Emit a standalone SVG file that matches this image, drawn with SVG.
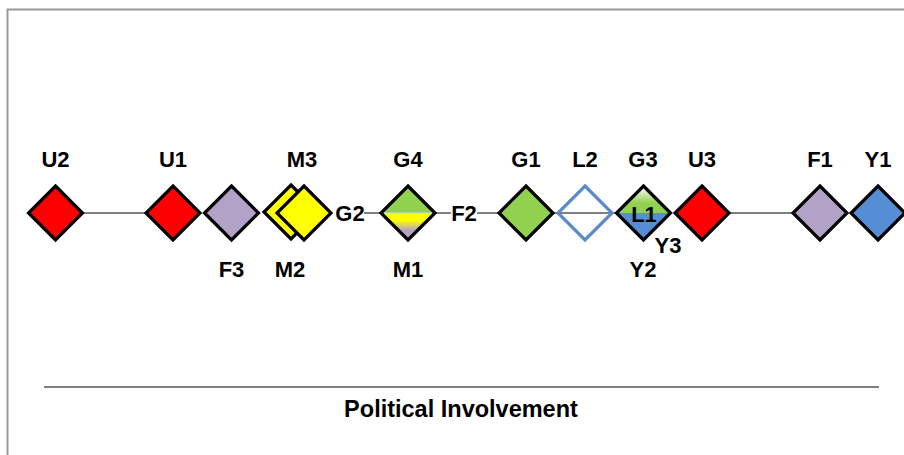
<svg xmlns="http://www.w3.org/2000/svg" width="904" height="455" viewBox="0 0 904 455">
  <style>
    .d { stroke: #000; stroke-width: 3.2; stroke-linejoin: miter; }
    .lbl { font-family: "Liberation Sans", Arial, sans-serif; font-weight: bold; font-size: 22px; fill: #000; text-anchor: middle; }
    .title { font-family: "Liberation Sans", Arial, sans-serif; font-weight: bold; font-size: 23.5px; fill: #000; text-anchor: middle; }
    .conn { stroke: #7f7f7f; stroke-width: 2; fill: none; }
    .red { fill: #ff0000; }
    .lilac { fill: #b3a2c7; }
    .yellow { fill: #ffff00; }
    .green { fill: #92d050; }
    .blue { fill: #558ed5; }
  </style>
  <defs>
    <!-- one diamond shape, centred on the origin -->
    <path id="dia" d="M0,-27 L27,0 L0,27 L-27,0 Z"/>
    <linearGradient id="gradG4" x1="0" y1="0" x2="0" y2="1">
      <stop offset="0" stop-color="#92d050"/>
      <stop offset="0.48" stop-color="#92d050"/>
      <stop offset="0.5" stop-color="#c6dce0"/>
      <stop offset="0.53" stop-color="#ffff00"/>
      <stop offset="0.64" stop-color="#ffff00"/>
      <stop offset="0.82" stop-color="#b3a2c7"/>
      <stop offset="1" stop-color="#b3a2c7"/>
    </linearGradient>
    <linearGradient id="gradG3" x1="0" y1="0" x2="0" y2="1">
      <stop offset="0" stop-color="#ffffff"/>
      <stop offset="0.32" stop-color="#92d050"/>
      <stop offset="0.5" stop-color="#92d050"/>
      <stop offset="0.5" stop-color="#558ed5"/>
      <stop offset="1" stop-color="#558ed5"/>
    </linearGradient>
  </defs>

  <rect width="904" height="455" fill="#ffffff"/>
  <!-- chart frame, running past the right and bottom edges -->
  <rect x="7.5" y="9.5" width="920" height="470" fill="none" stroke="#999999" stroke-width="2"/>

  <!-- axis and its title -->
  <g id="axis">
    <line x1="44" y1="387" x2="879" y2="387" stroke="#808080" stroke-width="2"/>
    <text class="title" x="461" y="417">Political Involvement</text>
  </g>

  <g id="connectors">
    <line class="conn" x1="83" y1="213" x2="146" y2="213"/>
    <line class="conn" x1="364" y1="213" x2="381" y2="213"/>
    <line class="conn" x1="436" y1="213" x2="451" y2="213"/>
    <line class="conn" x1="477" y1="213" x2="499" y2="213"/>
    <line class="conn" x1="553" y1="213" x2="616" y2="213"/>
    <line class="conn" x1="729" y1="213" x2="793" y2="213"/>
  </g>

  <g id="U2">
    <use href="#dia" x="55.5" y="213" class="d red"/>
    <text class="lbl" x="55.5" y="167">U2</text>
  </g>
  <g id="U1">
    <use href="#dia" x="173" y="213" class="d red"/>
    <text class="lbl" x="173" y="167">U1</text>
  </g>
  <g id="F3">
    <use href="#dia" x="231.5" y="213" class="d lilac"/>
    <text class="lbl" x="231.5" y="277">F3</text>
  </g>
  <g id="M2">
    <use href="#dia" x="291" y="212" class="d yellow"/>
    <text class="lbl" x="290" y="277">M2</text>
  </g>
  <g id="M3">
    <use href="#dia" x="304" y="213" class="d yellow"/>
    <text class="lbl" x="302" y="167">M3</text>
  </g>
  <g id="G2">
    <text class="lbl" x="350" y="221">G2</text>
  </g>
  <g id="G4">
    <use href="#dia" x="408" y="213" class="d" fill="url(#gradG4)"/>
    <text class="lbl" x="408" y="167">G4</text>
  </g>
  <g id="M1">
    <text class="lbl" x="408" y="277">M1</text>
  </g>
  <g id="F2">
    <text class="lbl" x="464" y="221">F2</text>
  </g>
  <g id="G1">
    <use href="#dia" x="526" y="213" class="d green"/>
    <text class="lbl" x="526" y="167">G1</text>
  </g>
  <g id="L2">
    <use href="#dia" x="585" y="213" fill="none" stroke="#5b8bc7" stroke-width="3.2"/>
    <text class="lbl" x="585" y="167">L2</text>
  </g>
  <g id="G3">
    <use href="#dia" x="643.5" y="213" class="d" fill="url(#gradG3)"/>
    <text class="lbl" x="643" y="167">G3</text>
  </g>
  <g id="L1">
    <text class="lbl" x="644" y="222">L1</text>
  </g>
  <g id="Y3">
    <text class="lbl" x="668" y="253">Y3</text>
  </g>
  <g id="Y2">
    <text class="lbl" x="643" y="277">Y2</text>
  </g>
  <g id="U3">
    <use href="#dia" x="702" y="213" class="d red"/>
    <text class="lbl" x="702" y="167">U3</text>
  </g>
  <g id="F1">
    <use href="#dia" x="820" y="213" class="d lilac"/>
    <text class="lbl" x="820" y="167">F1</text>
  </g>
  <g id="Y1">
    <use href="#dia" x="878" y="213" class="d blue"/>
    <text class="lbl" x="878" y="167">Y1</text>
  </g>
</svg>
